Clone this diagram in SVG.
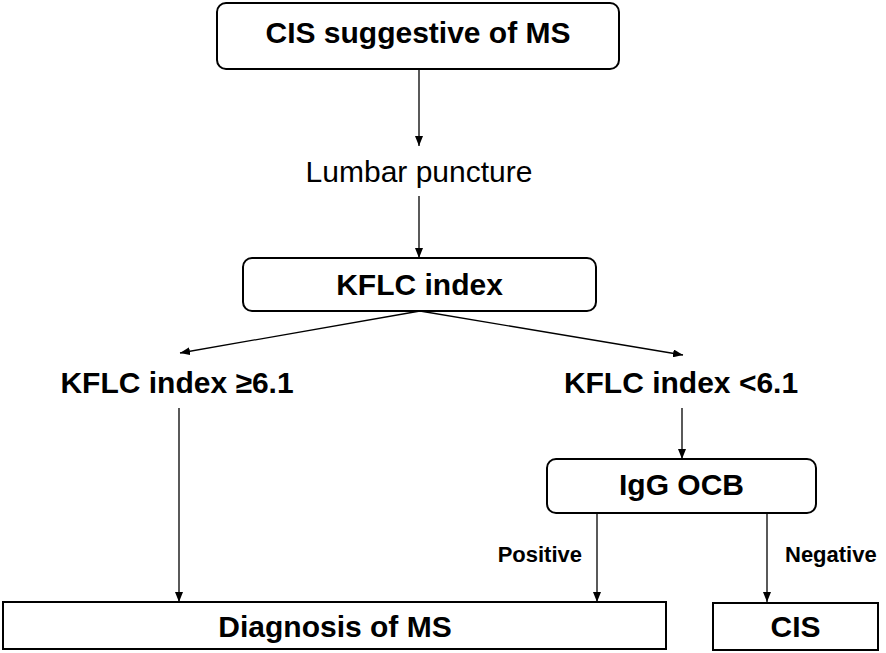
<svg xmlns="http://www.w3.org/2000/svg" width="886" height="653" viewBox="0 0 886 653">
<style>
.box{fill:#fff;stroke:#000;stroke-width:2}
.b{font-family:"Liberation Sans",Arial,sans-serif;font-weight:bold;font-size:30px;fill:#000;text-anchor:middle}
.r{font-family:"Liberation Sans",Arial,sans-serif;font-size:30px;fill:#000;text-anchor:middle}
.s{font-family:"Liberation Sans",Arial,sans-serif;font-weight:bold;font-size:22px;fill:#000}
.c{stroke:#000;stroke-width:1.3;fill:none;marker-end:url(#ah)}
</style>
<defs>
<marker id="ah" markerUnits="userSpaceOnUse" markerWidth="10" markerHeight="8" refX="10" refY="4" orient="auto">
<path d="M0,0 L10,4 L0,8 z" fill="#000"/>
</marker>
</defs>
<rect width="886" height="653" fill="#fff"/>
<g id="connectors">
<line class="c" x1="419" y1="69" x2="419" y2="146"/>
<line class="c" x1="419" y1="196" x2="419" y2="258"/>
<line class="c" x1="420" y1="311" x2="180" y2="353"/>
<line class="c" x1="420" y1="311" x2="683" y2="355"/>
<line class="c" x1="179" y1="408" x2="179" y2="602"/>
<line class="c" x1="682" y1="408" x2="682" y2="459"/>
<line class="c" x1="597" y1="512" x2="597" y2="602"/>
<line class="c" x1="767" y1="512" x2="767" y2="602"/>
</g>
<g id="cis-suggestive">
<rect class="box" x="217" y="3" width="402" height="66" rx="9"/>
<text class="b" x="418" y="43">CIS suggestive of MS</text>
</g>
<g id="lumbar-puncture">
<text class="r" x="419" y="182">Lumbar puncture</text>
</g>
<g id="kflc-index">
<rect class="box" x="243" y="258" width="353" height="53" rx="9"/>
<text class="b" x="419.5" y="295">KFLC index</text>
</g>
<g id="kflc-high">
<text class="b" x="177" y="393">KFLC index ≥6.1</text>
</g>
<g id="kflc-low">
<text class="b" x="681" y="393">KFLC index &lt;6.1</text>
</g>
<g id="igg-ocb">
<rect class="box" x="547" y="459" width="269" height="54" rx="9"/>
<text class="b" x="681.5" y="495">IgG OCB</text>
</g>
<g id="label-positive">
<text class="s" x="582" y="562" text-anchor="end">Positive</text>
</g>
<g id="label-negative">
<text class="s" x="785" y="562">Negative</text>
</g>
<g id="diagnosis-ms">
<rect class="box" x="3" y="602" width="663" height="47"/>
<text class="b" x="335" y="637">Diagnosis of MS</text>
</g>
<g id="cis">
<rect class="box" x="713" y="603" width="165" height="47"/>
<text class="b" x="795.5" y="637">CIS</text>
</g>
</svg>
